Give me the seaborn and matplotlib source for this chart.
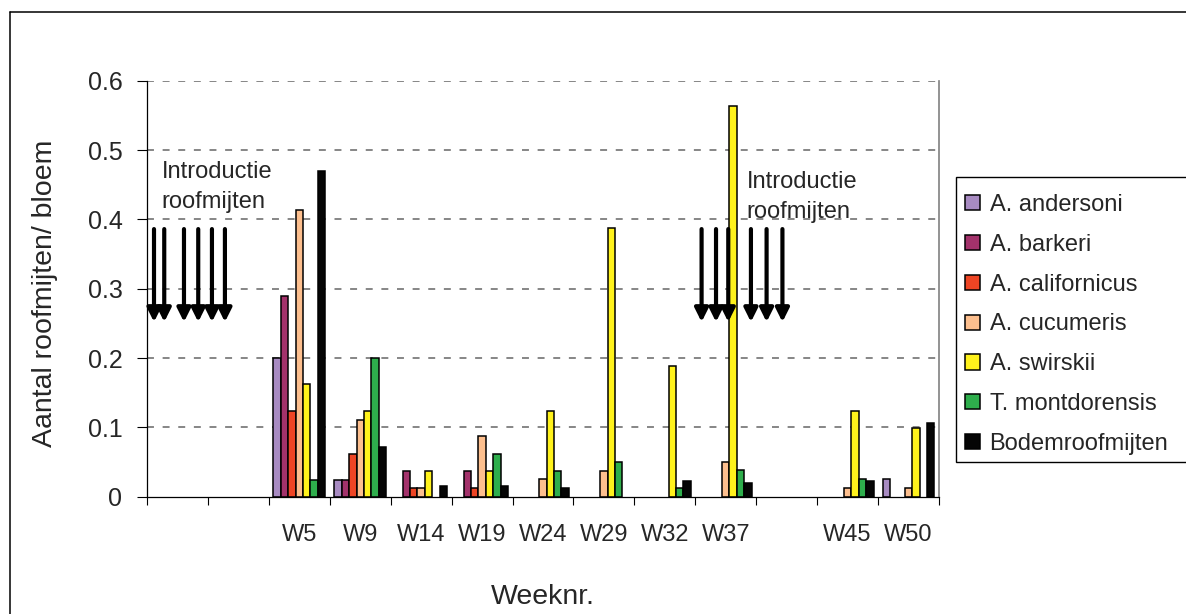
import numpy as np
import pandas as pd
import matplotlib
matplotlib.use("Agg")
import matplotlib.pyplot as plt
from matplotlib.patches import Patch, ArrowStyle, Rectangle
from matplotlib.lines import Line2D
import seaborn as sns

# ---------------- data ----------------
axis_slots = ["_b1", "_b2", "W5", "W9", "W14", "W19", "W24", "W29", "W32", "W37", "_b3", "W45", "W50"]
slot_labels = ["", "", "W5", "W9", "W14", "W19", "W24", "W29", "W32", "W37", "", "W45", "W50"]
weeks = ["W5", "W9", "W14", "W19", "W24", "W29", "W32", "W37", "W45", "W50"]

species = ["A. andersoni", "A. barkeri", "A. californicus", "A. cucumeris",
           "A. swirskii", "T. montdorensis", "Bodemroofmijten"]

andersoni    = [0.200, 0.024, 0.000, 0.000, 0.000, 0.000, 0.000, 0.000, 0.000, 0.025]
barkeri      = [0.290, 0.024, 0.037, 0.037, 0.000, 0.000, 0.000, 0.000, 0.000, 0.000]
californicus = [0.124, 0.062, 0.012, 0.012, 0.000, 0.000, 0.000, 0.000, 0.000, 0.000]
cucumeris    = [0.414, 0.111, 0.012, 0.088, 0.025, 0.037, 0.000, 0.050, 0.012, 0.012]
swirskii     = [0.162, 0.124, 0.037, 0.037, 0.124, 0.388, 0.188, 0.564, 0.124, 0.099]
montdorensis = [0.024, 0.200, 0.000, 0.062, 0.037, 0.050, 0.012, 0.038, 0.025, 0.000]
bodem        = [0.470, 0.071, 0.015, 0.015, 0.013, 0.000, 0.023, 0.020, 0.023, 0.107]

series = [andersoni, barkeri, californicus, cucumeris, swirskii, montdorensis, bodem]
colors = ["#A88BC2", "#A3326B", "#EE4524", "#FDBF8E", "#FFF21C", "#2EAE4C", "#050505"]

y_ticks = [0, 0.1, 0.2, 0.3, 0.4, 0.5, 0.6]
y_tick_labels = ["0", "0.1", "0.2", "0.3", "0.4", "0.5", "0.6"]

annotation_text = ["Introductie", "roofmijten"]
# introduction arrows (category-axis units), start/end heights
arrows_left_x = [-0.385, -0.217, 0.107, 0.341, 0.566, 0.779]
arrows_right_x = [8.603, 8.84, 9.041, 9.413, 9.67, 9.93]
arrow_top, arrow_bottom = 0.386, 0.252

rows = []
for name, vals in zip(species, series):
    for w, v in zip(weeks, vals):
        if v > 0:
            rows.append({"week": w, "value": v, "species": name})
df = pd.DataFrame(rows)

# ---------------- figure ----------------
sns.set_style("white")
plt.rcParams['font.family'] = ['Liberation Sans', 'DejaVu Sans']

W, H = 1186, 614
fig = plt.figure(figsize=(W / 100, H / 100), dpi=100)
x0, x1, ytop, ybot = 147, 939, 80.7, 496.7
ax = fig.add_axes([x0 / W, 1 - ybot / H, (x1 - x0) / W, (ybot - ytop) / H])

sns.barplot(data=df, x="week", y="value", hue="species", order=axis_slots,
            hue_order=species, palette=colors, width=0.85, edgecolor="black",
            linewidth=1.1, errorbar=None, dodge=True, ax=ax, legend=False, saturation=1)

ax.set_xlim(-0.5, len(axis_slots) - 0.5)
ax.set_ylim(0, 0.6)

# dashed horizontal gridlines (not at zero)
ax.grid(False)
for yv in y_ticks[1:]:
    ax.axhline(yv, color="#777777", linestyle=(0, (4.0, 5.0)), linewidth=1.25, zorder=0.5)

# spines
ax.spines["top"].set_visible(False)
ax.spines["right"].set_color("#808080")
ax.spines["right"].set_linewidth(1.2)
for s in ("left", "bottom"):
    ax.spines[s].set_color("black")
    ax.spines[s].set_linewidth(0.9)

# x ticks: boundaries as major ticks, labels at category centres
ax.set_xticks(np.arange(-0.5, len(axis_slots), 1.0))
ax.set_xticklabels([])
ax.set_xticks(np.arange(len(axis_slots)), minor=True)
ax.set_xticklabels(slot_labels, minor=True, fontsize=17)
ax.tick_params(axis="x", which="major", bottom=True, length=5.5, width=0.8, direction="out", color="black")
ax.tick_params(axis="x", which="minor", bottom=True, length=0, pad=19.5)

ax.set_yticks(y_ticks)
ax.set_yticklabels(y_tick_labels, fontsize=18)
ax.tick_params(axis="y", left=True, length=7.2, width=0.8, direction="out", pad=10.5, color="black")

ax.set_xlabel("Weeknr.", fontsize=20.5)
ax.xaxis.set_label_coords(0.5, -0.21)
ax.set_ylabel("Aantal roofmijten/ bloem", fontsize=20.5)
ax.yaxis.set_label_coords(-0.113, 0.49)

# annotations
ax.text(-0.259, 0.4599, annotation_text[0], fontsize=17, va="baseline", ha="left")
ax.text(-0.259, 0.4166, annotation_text[1], fontsize=17, va="baseline", ha="left")
ax.text(9.341, 0.445, annotation_text[0], fontsize=17, va="baseline", ha="left")
ax.text(9.341, 0.4017, annotation_text[1], fontsize=17, va="baseline", ha="left")

style = ArrowStyle("-|>", head_length=8.0, head_width=4.0)
for xa in arrows_left_x + arrows_right_x:
    ax.annotate("", xy=(xa, arrow_bottom), xytext=(xa, arrow_top),
                arrowprops=dict(arrowstyle=style, mutation_scale=1, lw=3.0,
                                color="black", shrinkA=0, shrinkB=0))

# legend (frame drawn separately so it runs off the right edge like the reference)
fig.add_artist(Rectangle((956 / W, 1 - 462 / H), (1200 - 956) / W, (462 - 177) / H,
                         transform=fig.transFigure, facecolor="white",
                         edgecolor="black", linewidth=1.0, zorder=4))
handles = [Patch(facecolor=c, edgecolor="black", linewidth=1.1) for c in colors]
leg = fig.legend(handles, species, loc="upper left",
                 bbox_to_anchor=(965 / W, 1 - 194 / H), bbox_transform=fig.transFigure,
                 fontsize=17, frameon=False,
                 borderaxespad=0, borderpad=0, labelspacing=0.755,
                 handlelength=0.62, handleheight=0.62, handletextpad=0.42)
leg.set_zorder(5)

# outer chart border (left and top visible)
fig.add_artist(Line2D([10 / W, 10 / W], [0, 1 - 12 / H], transform=fig.transFigure,
                      color="black", lw=1.1))
fig.add_artist(Line2D([10 / W, 1], [1 - 12 / H, 1 - 12 / H], transform=fig.transFigure,
                      color="black", lw=1.1))

fig.savefig("out.png", dpi=100)
